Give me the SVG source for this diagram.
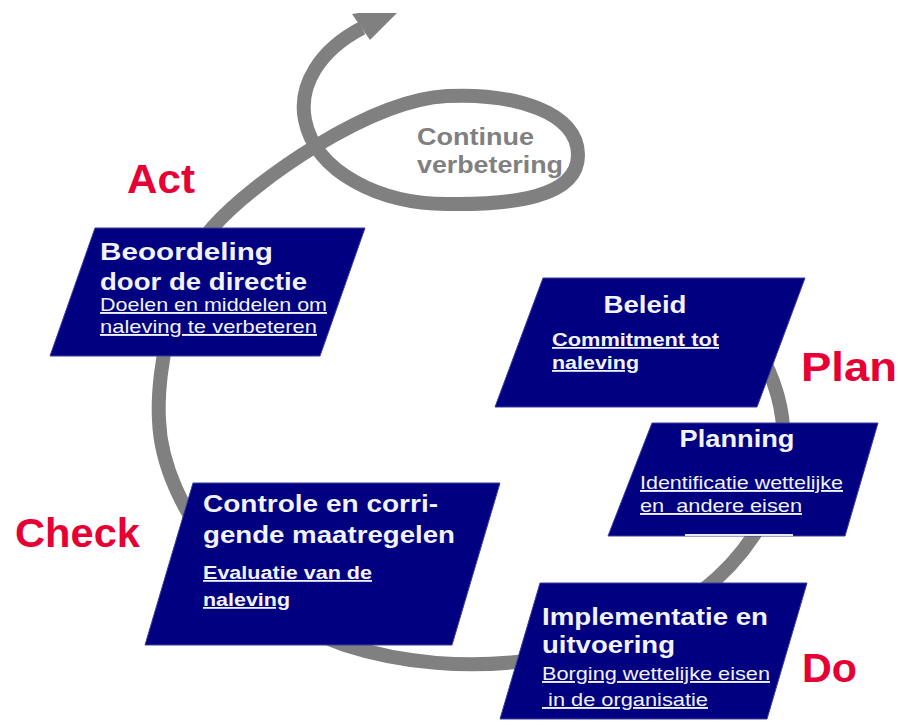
<svg xmlns="http://www.w3.org/2000/svg" width="898" height="726" viewBox="0 0 898 726">
<style>
.box{fill:#000080;stroke:#3c3ca0;stroke-width:1}
.t{font-family:"Liberation Sans",Arial,sans-serif;fill:#f2f2fa}
.h{font-size:24px;font-weight:bold}
.s{font-size:19px;text-decoration:underline}
.sb{font-size:18px;font-weight:bold;text-decoration:underline}
.lab{font-family:"Liberation Sans",Arial,sans-serif;font-size:40px;font-weight:bold;fill:#e60033}
.cv{font-family:"Liberation Sans",Arial,sans-serif;font-size:24px;font-weight:bold;fill:#808080}
.flow{fill:none;stroke:#808080;stroke-width:14}
.pre{white-space:pre}
</style>
<defs>
<clipPath id="clipTop"><rect x="0" y="13" width="898" height="713"/></clipPath>
</defs>
<rect x="0" y="0" width="898" height="726" fill="#ffffff"/>
<g id="connectors" clip-path="url(#clipTop)">
<path class="flow" d="M 745 331 A 312 225 0 0 1 345 645 C 250 614, 162 510, 159 420 C 156 370, 175 270, 213 227 C 255 180, 370 100, 447 96 C 515 93, 578 112, 578 155 C 578 198, 510 205, 447 204 C 380 204, 315 172, 305 120 C 298 85, 320 50, 362 28"/>
<polygon points="352,14 370,40 404,6" fill="#808080"/>
</g>
<g id="label-continue">
<text class="cv" x="417" y="145" textLength="117" lengthAdjust="spacingAndGlyphs">Continue</text>
<text class="cv" x="417" y="173" textLength="146" lengthAdjust="spacingAndGlyphs">verbetering</text>
</g>
<g id="node-act">
<polygon class="box" points="95,228 365,228 320,356 50,356"/>
<text class="t h" x="100" y="260" textLength="173" lengthAdjust="spacingAndGlyphs">Beoordeling</text>
<text class="t h" x="100" y="290" textLength="207" lengthAdjust="spacingAndGlyphs">door de directie</text>
<text class="t s" x="100" y="311" textLength="227" lengthAdjust="spacingAndGlyphs">Doelen en middelen om</text>
<text class="t s" x="100" y="333" textLength="217" lengthAdjust="spacingAndGlyphs">naleving te verbeteren</text>
</g>
<g id="node-beleid">
<polygon class="box" points="543,278 805,278 757,407 495,407"/>
<text class="t h" x="645" y="313" text-anchor="middle" textLength="83" lengthAdjust="spacingAndGlyphs">Beleid</text>
<text class="t sb" x="552" y="346" textLength="167" lengthAdjust="spacingAndGlyphs">Commitment tot</text>
<text class="t sb" x="552" y="369" textLength="87" lengthAdjust="spacingAndGlyphs">naleving</text>
</g>
<g id="node-planning">
<polygon class="box" points="652,423 878,423 845,536 608,536"/>
<text class="t h" x="737" y="447" text-anchor="middle" textLength="115" lengthAdjust="spacingAndGlyphs">Planning</text>
<text class="t s" x="640" y="489" textLength="203" lengthAdjust="spacingAndGlyphs">Identificatie wettelijke</text>
<text class="t s pre" x="640" y="512" textLength="162" lengthAdjust="spacingAndGlyphs">en  andere eisen</text>
<line x1="685" y1="535" x2="793" y2="535" stroke="#e8e8f4" stroke-width="2"/>
</g>
<g id="node-check">
<polygon class="box" points="193,483 500,483 452,645 145,645"/>
<text class="t h" x="203" y="512" textLength="235" lengthAdjust="spacingAndGlyphs">Controle en corri-</text>
<text class="t h" x="203" y="543" textLength="252" lengthAdjust="spacingAndGlyphs">gende maatregelen</text>
<text class="t sb" x="203" y="579" textLength="169" lengthAdjust="spacingAndGlyphs">Evaluatie van de</text>
<text class="t sb" x="203" y="606" textLength="87" lengthAdjust="spacingAndGlyphs">naleving</text>
</g>
<g id="node-do">
<polygon class="box" points="540,583 807,583 767,719 500,719"/>
<text class="t h" x="542" y="625" textLength="226" lengthAdjust="spacingAndGlyphs">Implementatie en</text>
<text class="t h" x="542" y="653" textLength="133" lengthAdjust="spacingAndGlyphs">uitvoering</text>
<text class="t s" x="542" y="680" textLength="228" lengthAdjust="spacingAndGlyphs">Borging wettelijke eisen</text>
<text class="t s pre" x="542" y="706" textLength="166" lengthAdjust="spacingAndGlyphs"> in de organisatie</text>
</g>
<g id="phase-labels">
<text class="lab" x="127" y="193" textLength="68" lengthAdjust="spacingAndGlyphs">Act</text>
<text class="lab" x="801" y="381" textLength="96" lengthAdjust="spacingAndGlyphs">Plan</text>
<text class="lab" x="15" y="547" textLength="125" lengthAdjust="spacingAndGlyphs">Check</text>
<text class="lab" x="802" y="682" textLength="55" lengthAdjust="spacingAndGlyphs">Do</text>
</g>
</svg>
